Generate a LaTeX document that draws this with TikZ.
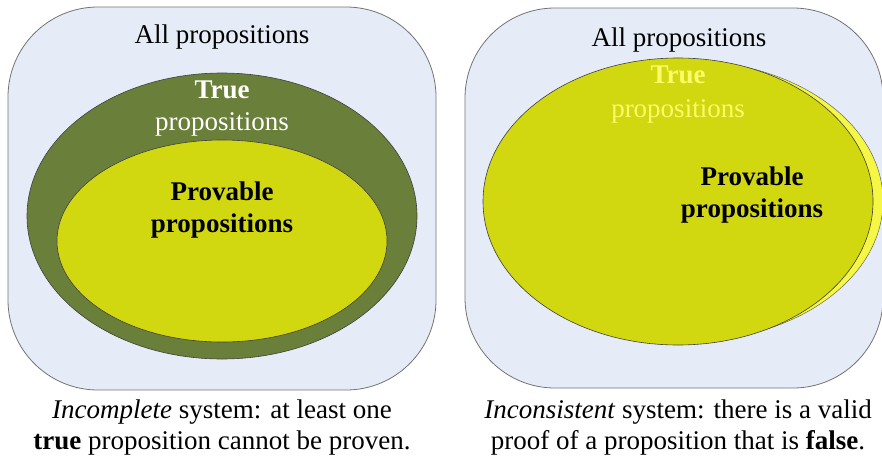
\documentclass[tikz,border=0pt]{standalone}
\usepackage{fontspec}
\setmainfont{Liberation Serif}
\usepackage{tikz}
\usepackage{xcolor}

\definecolor{setbg}{HTML}{E6ECF7}
\definecolor{truegreen}{HTML}{6A803A}
\definecolor{provyellow}{HTML}{D2D810}
\definecolor{brightyellow}{HTML}{F6F645}
\definecolor{paleyellow}{HTML}{FBFB6A}

\tikzset{
  txt/.style={anchor=base,inner sep=0pt,font=\fontsize{27}{31}\selectfont},
  allset/.style={draw=black!55,line width=0.8pt,fill=setbg,rounded corners=90pt},
  blob/.style={draw=black!75,line width=0.6pt}
}

\begin{document}
\begin{tikzpicture}[x=1pt,y=-1pt]
 \useasboundingbox (0,0) rectangle (882,455);

 % left: incomplete system
 \draw[allset] (8,7) rectangle (436,390);
 \draw[blob,fill=truegreen] (222,216) ellipse [x radius=195pt, y radius=143pt];
 \draw[blob,fill=provyellow] (222,241) ellipse [x radius=165pt, y radius=101pt];
 \node[txt] (allL) at (222,43) {All propositions};
 \node[txt,white] (trueL) at (222,98) {\bfseries True};
 \node[txt,white] (truepL) at (222,130) {propositions};
 \node[txt] (provL) at (222,200) {\bfseries Provable};
 \node[txt] (provpL) at (222,232) {\bfseries propositions};
 \node[txt] (capL1) at (222,418) {\textit{Incomplete} system: at least one};
 \node[txt] (capL2) at (222,449) {\textbf{true} proposition cannot be proven.};

 % right: inconsistent system
 \draw[allset] (465,8) rectangle (883,388);
 \draw[draw=black!60,line width=0.5pt,fill=brightyellow] (688,201) ellipse [x radius=195pt, y radius=140pt];
 \draw[blob,fill=provyellow] (678,201.5) ellipse [x radius=195pt, y radius=143.5pt];
 \node[txt] (allR) at (679,46) {All propositions};
 \node[txt,paleyellow] (trueR) at (678,83) {\bfseries True};
 \node[txt,paleyellow] (truepR) at (678,117) {propositions};
 \node[txt] (provR) at (752,185) {\bfseries Provable};
 \node[txt] (provpR) at (752,217) {\bfseries propositions};
 \node[txt] (capR1) at (678,418) {\textit{Inconsistent} system: there is a valid};
 \node[txt] (capR2) at (678,449) {proof of a proposition that is \textbf{false}.};
\end{tikzpicture}
\end{document}
